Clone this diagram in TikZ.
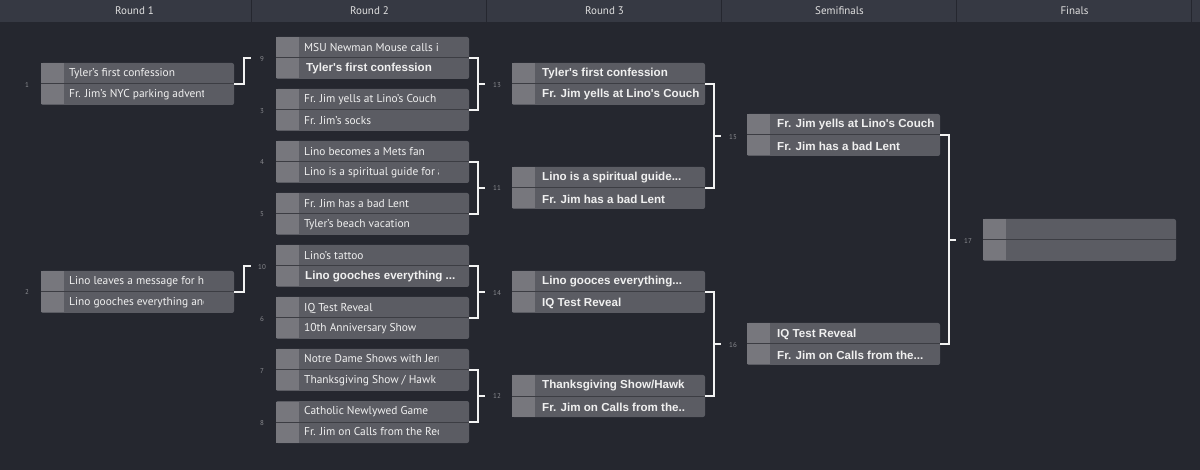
\documentclass[tikz,border=0pt]{standalone}
\usetikzlibrary{calc}
\usepackage{fontspec}
\setmainfont{PT Sans}
\newfontfamily\boldf{Liberation Sans}[BoldFont={* Bold}]
\definecolor{bg}{HTML}{25272F}
\definecolor{hd}{HTML}{363943}
\definecolor{bx}{HTML}{5B5C63}
\definecolor{sd}{HTML}{77777D}
\definecolor{sep}{HTML}{3C3D43}
\definecolor{num}{HTML}{8A8B90}
\tikzset{
 hdr/.style={text=white!88!black,font=\fontsize{11}{13}\selectfont},
 nlab/.style={text=num,font=\fontsize{7}{8}\selectfont},
 rowt/.style={anchor=west,text=white!94!black,inner sep=0pt},
 ft/.style={font=\fontsize{11.4}{13}\selectfont},
 fb/.style={font=\boldf\bfseries\fontsize{11.6}{13}\selectfont},
 brk/.style={draw=white!95!black,line width=1.6pt}
}
% \mtch{name}{x}{y}{top}{topstyle}{bottom}{bottomstyle}
\newcommand\mtch[7]{%
 \fill[bx,rounded corners=2pt] (#2,#3) rectangle ++(193,42);
 \fill[sd] (#2,#3+0.5) rectangle ++(23,41);
 \draw[sep,line width=1pt] (#2,#3+21) -- ++(193,0);
 \coordinate (#1) at (#2+193,#3+21);
 \coordinate (#1w) at (#2,#3+21);
 \begin{scope}
 \clip (#2+23,#3) rectangle ++(139,42);
 \node[rowt,#5] (#1a) at (#2+28,#3+11) {#4};
 \node[rowt,#7] (#1b) at (#2+28,#3+32) {#6};
 \end{scope}}
\newcommand\mtchb[7]{%
 \fill[bx,rounded corners=2pt] (#2,#3) rectangle ++(193,42);
 \fill[sd] (#2,#3+0.5) rectangle ++(23,41);
 \draw[sep,line width=1pt] (#2,#3+21) -- ++(193,0);
 \coordinate (#1) at (#2+193,#3+21);
 \coordinate (#1w) at (#2,#3+21);
 \node[rowt,#5] (#1a) at (#2+30,#3+11) {#4};
 \node[rowt,#7] (#1b) at (#2+30,#3+32) {#6};}
\begin{document}
\begin{tikzpicture}[x=1pt,y=-1pt]
\fill[bg] (0,0) rectangle (1200,470);
\useasboundingbox (0,0) rectangle (1200,470);
\foreach \i/\t in {0/Round 1,1/Round 2,2/Round 3,3/Semifinals,4/Finals}{
 \fill[hd] (17+\i*235,0) rectangle ++(234,22);
 \node[hdr] (h\i) at (134.5+\i*235,11) {\t};}
\fill[hd] (0,0) rectangle (17,22);
\fill[hd] (1192,0) rectangle (1200,22);
% Round 1
\mtch{m1}{41}{63}{Tyler's first confession}{ft}{Fr. Jim's NYC parking adventure}{ft}
\mtch{m2}{41}{271}{Lino leaves a message for his}{ft}{Lino gooches everything and}{ft}
% Round 2
\mtch{m9}{276}{37}{MSU Newman Mouse calls in}{ft}{}{ft}
\node[rowt,fb] (m9x) at (306,69) {Tyler's first confession};
\mtch{m3}{276}{89}{Fr. Jim yells at Lino's Couch}{ft}{Fr. Jim's socks}{ft}
\mtch{m4}{276}{141}{Lino becomes a Mets fan}{ft}{Lino is a spiritual guide for a}{ft}
\mtch{m5}{276}{193}{Fr. Jim has a bad Lent}{ft}{Tyler's beach vacation}{ft}
\mtch{m10}{276}{245}{Lino's tattoo}{ft}{}{ft}
\node[rowt,fb] (m10x) at (305,277) {Lino gooches everything ...};
\mtch{m6}{276}{297}{IQ Test Reveal}{ft}{10th Anniversary Show}{ft}
\mtch{m7}{276}{349}{Notre Dame Shows with Jerry}{ft}{Thanksgiving Show / Hawk}{ft}
\mtch{m8}{276}{401}{Catholic Newlywed Game}{ft}{Fr. Jim on Calls from the Rectory}{ft}
% Round 3
\mtchb{m13}{512}{63}{Tyler's first confession}{fb}{Fr. Jim yells at Lino's Couch}{fb}
\mtchb{m11}{512}{167}{Lino is a spiritual guide...}{fb}{Fr. Jim has a bad Lent}{fb}
\mtchb{m14}{512}{271}{Lino gooces everything...}{fb}{IQ Test Reveal}{fb}
\mtchb{m12}{512}{375}{Thanksgiving Show/Hawk}{fb}{Fr. Jim on Calls from the..}{fb}
% Semis
\mtchb{m15}{747}{114}{Fr. Jim yells at Lino's Couch}{fb}{Fr. Jim has a bad Lent}{fb}
\mtchb{m16}{747}{323}{IQ Test Reveal}{fb}{Fr. Jim on Calls from the...}{fb}
% Final
\mtchb{m17}{983}{219}{}{ft}{}{ft}
% numbers
\foreach \n/\x/\y in {1/27/85,2/27/292,9/262/59,3/262/111,4/262/162,5/262/214,10/262/267,6/262/319,7/262/371,8/262/423,13/497/85,11/497/188,14/497/293,12/497/396,15/733/137,16/733/345,17/968/241}
 \node[nlab] (n\n) at (\x,\y) {\n};
% brackets
\draw[brk] (m1) -- ++(10,0) |- ($(m9w)+(-25,0)$);
\draw[brk] (m2) -- ++(10,0) |- ($(m10w)+(-25,0)$);
\draw[brk] (m9) -- ++(9,0) coordinate (c9) -- (c9 |- m3) -- (m3);
\draw[brk] (c9 |- 0,84) -- ++(7,0);
\draw[brk] (m4) -- ++(9,0) coordinate (c4) -- (c4 |- m5) -- (m5);
\draw[brk] (c4 |- 0,188) -- ++(7,0);
\draw[brk] (m10) -- ++(9,0) coordinate (c10) -- (c10 |- m6) -- (m6);
\draw[brk] (c10 |- 0,292) -- ++(7,0);
\draw[brk] (m7) -- ++(9,0) coordinate (c7) -- (c7 |- m8) -- (m8);
\draw[brk] (c7 |- 0,396) -- ++(7,0);
\draw[brk] (m13) -- ++(9,0) coordinate (c13) -- (c13 |- m11) -- (m11);
\draw[brk] (c13 |- 0,136) -- ++(7,0);
\draw[brk] (m14) -- ++(9,0) coordinate (c14) -- (c14 |- m12) -- (m12);
\draw[brk] (c14 |- 0,344) -- ++(7,0);
\draw[brk] (m15) -- ++(9,0) coordinate (c15) -- (c15 |- m16) -- (m16);
\draw[brk] (c15 |- 0,240) -- ++(7,0);
\end{tikzpicture}
\end{document}
